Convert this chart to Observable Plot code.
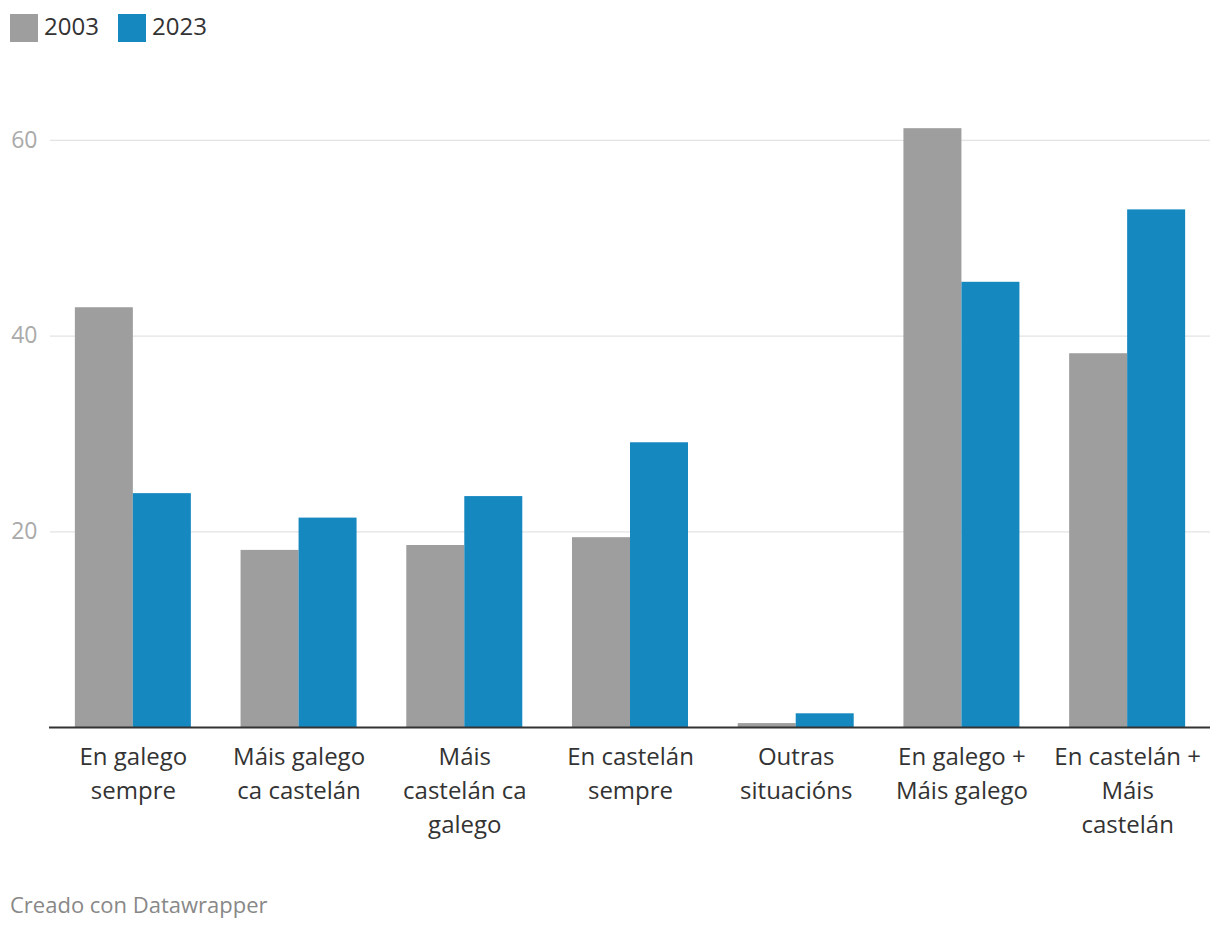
<!DOCTYPE html>
<html>
<head>
<meta charset="utf-8">
<script src="https://cdn.jsdelivr.net/npm/d3@7"></script>
<script src="https://cdn.jsdelivr.net/npm/@observablehq/plot@0.6"></script>
<style>
  body { margin: 0; background: #fff; font-family: "Open Sans", sans-serif; }
  #legend { height: 60px; position: relative; }
  .item { position: absolute; top: 14px; display: flex; align-items: center; font-size: 24px; color: #333; line-height: 28px; }
  .item span { position: relative; top: -2px; }
  .sw { width: 28px; height: 28px; margin-right: 6px; }
  #chart { position: relative; width: 1220px; height: 800px; }
  #chart svg { display: block; position: absolute; left: 0; top: 0; }
  #footer { position: absolute; left: 10px; top: 889px; font-size: 22px; color: #888; }
</style>
</head>
<body>
<div id="legend"></div>
<div id="chart"></div>
<div id="footer">Creado con Datawrapper</div>
<script>
const categories = ["En galego sempre", "Máis galego ca castelán", "Máis castelán ca galego", "En castelán sempre", "Outras situacións", "En galego + Máis galego", "En castelán + Máis castelán"];
const categoryLabels = ["En galego\nsempre", "Máis galego\nca castelán", "Máis\ncastelán ca\ngalego", "En castelán\nsempre", "Outras\nsituacións", "En galego +\nMáis galego", "En castelán +\nMáis\ncastelán"];
const years = ["2003", "2023"];
const values2003 = [42.9, 18.1, 18.6, 19.4, 0.4, 61.2, 38.2];
const values2023 = [23.9, 21.4, 23.6, 29.1, 1.4, 45.5, 52.9];
const yTicks = [20, 40, 60];
const colors = ["#9e9e9e", "#1588bf"];

const data = [];
categories.forEach((c, i) => {
  data.push({category: c, year: years[0], value: values2003[i]});
  data.push({category: c, year: years[1], value: values2023[i]});
});
const labelOf = new Map(categories.map((c, i) => [c, categoryLabels[i]]));

// legend
const legend = document.getElementById("legend");
const legendX = [10, 118];
years.forEach((y, i) => {
  const it = document.createElement("div");
  it.className = "item";
  it.style.left = legendX[i] + "px";
  it.innerHTML = `<div class="sw" style="background:${colors[i]}"></div><span>${y}</span>`;
  legend.appendChild(it);
});

const common = {
  width: 1220,
  height: 800,
  marginLeft: 50,
  marginRight: 10,
  marginTop: 31,
  marginBottom: 133,
  style: {fontFamily: "'Open Sans', sans-serif", fontSize: "23px", background: "transparent", overflow: "visible"},
  y: {domain: [0, 65], axis: null}
};
const band = {domain: categories, paddingInner: 0.3, paddingOuter: 0.15, round: false, axis: null, label: null};

// layer 1: grid, axes
const base = Plot.plot({
  ...common,
  x: band,
  marks: [
    Plot.gridY(yTicks, {stroke: "#e3e3e3", strokeOpacity: 1, strokeWidth: 1.3}),
    Plot.axisY(yTicks, {tickSize: 0, tickPadding: 13, fill: "#aaa", fontSize: 23, label: null}),
    Plot.axisX({anchor: "bottom", tickSize: 0, tickPadding: 13, tickFormat: d => labelOf.get(d), fill: "#333", fontSize: 24, lineHeight: 1.42, label: null})
  ]
});

// layer 2: grouped bars
const bars = Plot.plot({
  ...common,
  fx: band,
  x: {domain: years, padding: 0, round: false, axis: null},
  color: {domain: years, range: colors},
  marks: [
    Plot.barY(data, {fx: "category", x: "year", y: "value", fill: "year"})
  ]
});

// layer 3: baseline on top of bars
const baseline = Plot.plot({
  ...common,
  x: band,
  marks: [
    Plot.ruleY([0], {stroke: "#333", strokeWidth: 2, insetLeft: -1})
  ]
});

const chart = document.getElementById("chart");
chart.appendChild(base);
chart.appendChild(bars);
chart.appendChild(baseline);
</script>
</body>
</html>
